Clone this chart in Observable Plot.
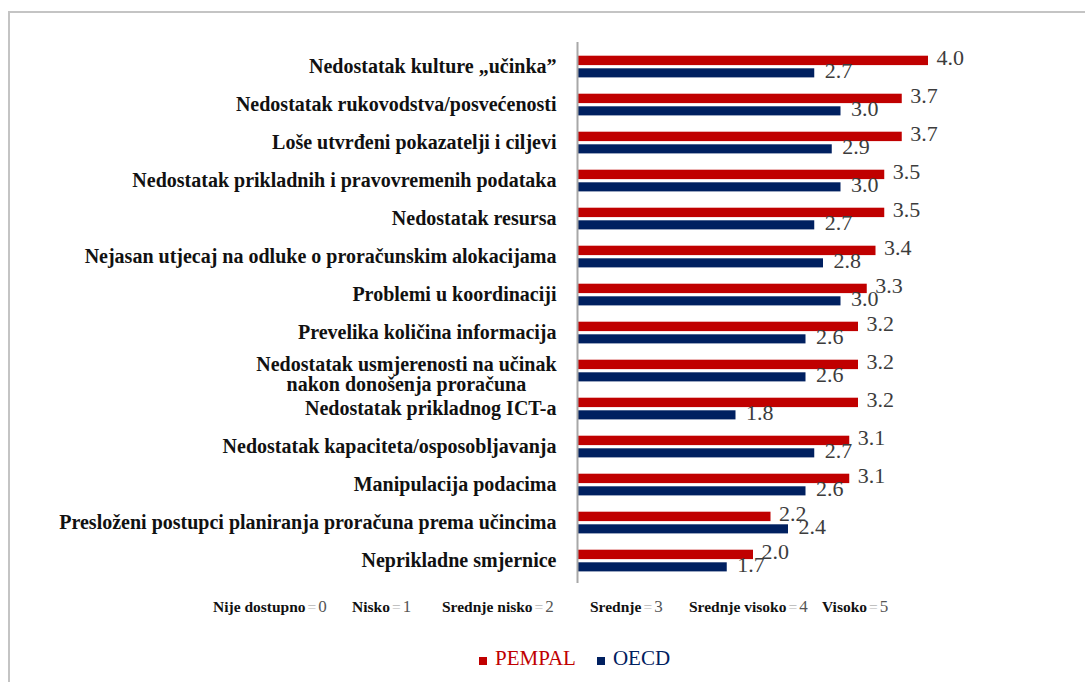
<!DOCTYPE html>
<html>
<head>
<meta charset="utf-8">
<script src="https://cdn.jsdelivr.net/npm/d3@7"></script>
<script src="https://cdn.jsdelivr.net/npm/@observablehq/plot@0.6"></script>
<style>
  html, body { margin: 0; padding: 0; background: #fff; }
  #wrap { position: relative; width: 1085px; height: 682px; overflow: hidden; font-family: "Liberation Serif", "Times New Roman", serif; }
  #frame { position: absolute; left: 8px; top: 11px; width: 1200px; height: 800px; border-top: 2px solid #c4c4c4; border-left: 2px solid #c4c4c4; }
  #chart { position: absolute; left: 0; top: 0; }
  #chart svg { background: transparent; }
  .scale { position: absolute; top: 597px; font-size: 15.5px; white-space: nowrap; color: #111; }
  .scale b { font-weight: bold; }
  .scale .eq { color: #b5b5b5; margin: 0 2px; }
  .scale .num { color: #555; font-size: 17px; }
  #legend { position: absolute; left: 479px; top: 646px; font-size: 21px; white-space: nowrap; }
  #legend .sw { display: inline-block; width: 8px; height: 8px; margin-right: 8px; vertical-align: baseline; }
  #legend .item { display: inline-block; margin-right: 21px; }
</style>
</head>
<body>
<div id="wrap">
  <div id="frame"></div>
  <div id="chart"></div>
  <div id="scales"></div>
  <div id="legend"></div>
</div>
<script>
const categories = [
  "Nedostatak kulture „učinka”",
  "Nedostatak rukovodstva/posvećenosti",
  "Loše utvrđeni pokazatelji i ciljevi",
  "Nedostatak prikladnih i pravovremenih podataka",
  "Nedostatak resursa",
  "Nejasan utjecaj na odluke o proračunskim alokacijama",
  "Problemi u koordinaciji",
  "Prevelika količina informacija",
  "Nedostatak usmjerenosti na učinak\nnakon donošenja proračuna",
  "Nedostatak prikladnog ICT-a",
  "Nedostatak kapaciteta/osposobljavanja",
  "Manipulacija podacima",
  "Presloženi postupci planiranja proračuna prema učincima",
  "Neprikladne smjernice"
];
const pempal = [4.0, 3.7, 3.7, 3.5, 3.5, 3.4, 3.3, 3.2, 3.2, 3.2, 3.1, 3.1, 2.2, 2.0];
const oecd   = [2.7, 3.0, 2.9, 3.0, 2.7, 2.8, 3.0, 2.6, 2.6, 1.8, 2.7, 2.6, 2.4, 1.7];
const seriesNames = ["PEMPAL", "OECD"];
const seriesColors = ["#c00000", "#002060"];
const scaleNames = ["Nije dostupno", "Nisko", "Srednje nisko", "Srednje", "Srednje visoko", "Visoko"];
const scaleValues = [0, 1, 2, 3, 4, 5];
const scaleLeft = [213, 352, 442, 590, 689, 822];

const rows = categories.map((c, i) => ({cat: c, pempal: pempal[i], oecd: oecd[i]}));
const single = rows.filter(d => !d.cat.includes("\n"));
const multi = rows.filter(d => d.cat.includes("\n"));

const labelFont = "bold 20px 'Liberation Serif'";
const cvs = document.createElement("canvas").getContext("2d");
cvs.font = labelFont;
const firstLineW = multi.length ? cvs.measureText(multi[0].cat.split("\n")[0]).width : 0;

const chart = Plot.plot({
  width: 1085,
  height: 600,
  marginLeft: 578,
  marginRight: 69.5,
  marginTop: 42,
  marginBottom: 17,
  x: {domain: [0, 5], axis: null},
  y: {domain: categories, axis: null, padding: 0},
  style: {fontFamily: "'Liberation Serif', 'Times New Roman', serif", background: "transparent"},
  marks: [
    Plot.barX(rows, {x: "pempal", y: "cat", fill: seriesColors[0], insetTop: 8.7, insetBottom: 19.9}),
    Plot.barX(rows, {x: "oecd", y: "cat", fill: seriesColors[1], insetTop: 21.3, insetBottom: 7.6}),
    Plot.ruleX([0], {stroke: "#a8a8a8", strokeWidth: 2, dx: -1}),
    Plot.text(rows, {x: "pempal", y: "cat", text: d => d.pempal.toFixed(1), dx: 8, dy: -9, textAnchor: "start", fontSize: 22, fill: "#3c3c3c"}),
    Plot.text(rows, {x: "oecd", y: "cat", text: d => d.oecd.toFixed(1), dx: 10, dy: 4, textAnchor: "start", fontSize: 22, fill: "#3c3c3c"}),
    Plot.text(single, {y: "cat", text: "cat", frameAnchor: "left", textAnchor: "end", dx: -22, dy: 0.5, fontSize: 20, fontWeight: "bold", fill: "#111"}),
    Plot.text(multi, {y: "cat", text: "cat", frameAnchor: "left", textAnchor: "middle", dx: -22 - firstLineW / 2, dy: 4, lineHeight: 1.0, fontSize: 20, fontWeight: "bold", fill: "#111"})
  ]
});
document.getElementById("chart").appendChild(chart);

const sc = document.getElementById("scales");
scaleNames.forEach((n, i) => {
  const s = document.createElement("div");
  s.className = "scale";
  s.style.left = scaleLeft[i] + "px";
  s.innerHTML = `<b>${n}</b><span class="eq">=</span><span class="num">${scaleValues[i]}</span>`;
  sc.appendChild(s);
});

const lg = document.getElementById("legend");
seriesNames.forEach((n, i) => {
  const it = document.createElement("span");
  it.className = "item";
  it.innerHTML = `<span class="sw" style="background:${seriesColors[i]}"></span><span style="color:${seriesColors[i]}">${n}</span>`;
  lg.appendChild(it);
});
</script>
</body>
</html>
